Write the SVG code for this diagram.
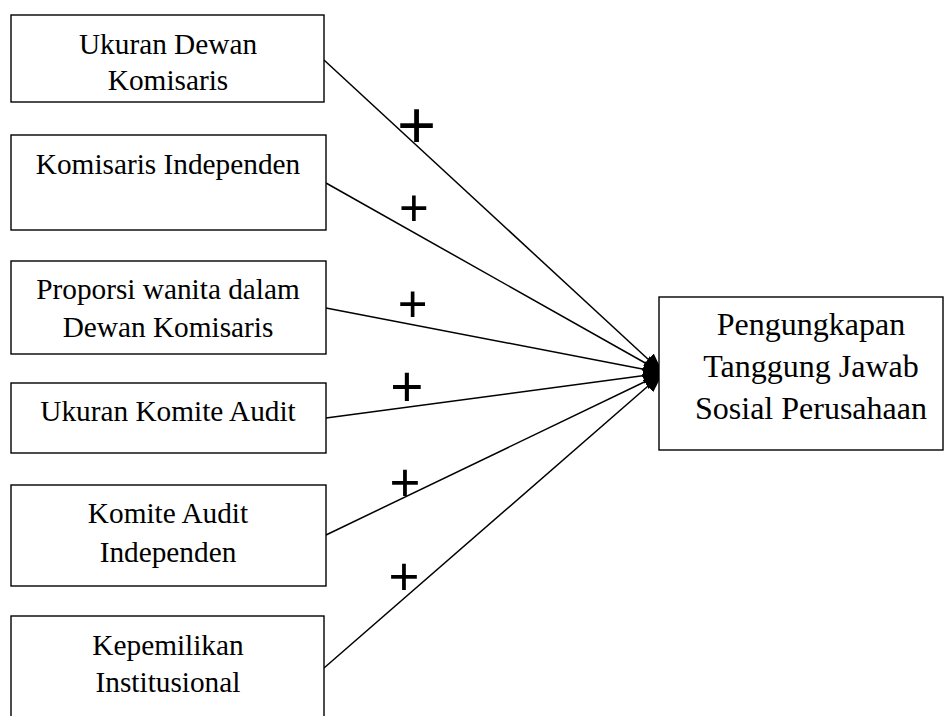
<svg xmlns="http://www.w3.org/2000/svg" width="946" height="716" viewBox="0 0 946 716">
<style>
.box{fill:#fff;stroke:#000;stroke-width:1.4}
.lbl{font-family:"Liberation Serif","Times New Roman",serif;font-size:29.3px;fill:#000;text-anchor:middle}
.big{font-size:32px}
.conn{stroke:#000;stroke-width:1.5;fill:none;marker-end:url(#ah)}
.plus{font-family:"Liberation Sans",Arial,sans-serif;fill:#000;text-anchor:middle}
</style>
<defs>
<marker id="ah" markerUnits="userSpaceOnUse" markerWidth="22" markerHeight="18" refX="20" refY="8" orient="auto">
<path d="M0,0 L20,8 L0,16 Z" fill="#000"/>
</marker>
</defs>
<rect width="946" height="716" fill="#fff"/>
<g id="connectors">
<line class="conn" x1="324" y1="60" x2="663" y2="373"/>
<line class="conn" x1="326" y1="183" x2="663" y2="373"/>
<line class="conn" x1="326" y1="308" x2="663" y2="373"/>
<line class="conn" x1="326" y1="418" x2="663" y2="373"/>
<line class="conn" x1="326" y1="535" x2="663" y2="373"/>
<line class="conn" x1="324" y1="668" x2="663" y2="373"/>
</g>
<g id="signs">
<text class="plus" x="416.5" y="148" font-size="67">+</text>
<text class="plus" x="414" y="226" font-size="51">+</text>
<text class="plus" x="412.7" y="322" font-size="51">+</text>
<text class="plus" x="407" y="406" font-size="57">+</text>
<text class="plus" x="405" y="501" font-size="53">+</text>
<text class="plus" x="404" y="595" font-size="53">+</text>
</g>
<g id="n1">
<rect class="box" x="11" y="15" width="313" height="87"/>
<text class="lbl" x="168" y="54">Ukuran Dewan</text>
<text class="lbl" x="168" y="90">Komisaris</text>
</g>
<g id="n2">
<rect class="box" x="11" y="135" width="315" height="95"/>
<text class="lbl" x="168" y="174">Komisaris Independen</text>
</g>
<g id="n3">
<rect class="box" x="11" y="261" width="315" height="93"/>
<text class="lbl" x="168" y="299">Proporsi wanita dalam</text>
<text class="lbl" x="168" y="337">Dewan Komisaris</text>
</g>
<g id="n4">
<rect class="box" x="11" y="383" width="315" height="70"/>
<text class="lbl" x="168" y="421">Ukuran Komite Audit</text>
</g>
<g id="n5">
<rect class="box" x="11" y="485" width="315" height="101"/>
<text class="lbl" x="168" y="523">Komite Audit</text>
<text class="lbl" x="168" y="562">Independen</text>
</g>
<g id="n6">
<rect class="box" x="11" y="616" width="313" height="120"/>
<text class="lbl" x="168" y="655">Kepemilikan</text>
<text class="lbl" x="168" y="692">Institusional</text>
</g>
<g id="target">
<rect class="box" x="659" y="297" width="284" height="153"/>
<text class="lbl big" x="811" y="335">Pengungkapan</text>
<text class="lbl big" x="811" y="377">Tanggung Jawab</text>
<text class="lbl big" x="811" y="419">Sosial Perusahaan</text>
</g>
</svg>
